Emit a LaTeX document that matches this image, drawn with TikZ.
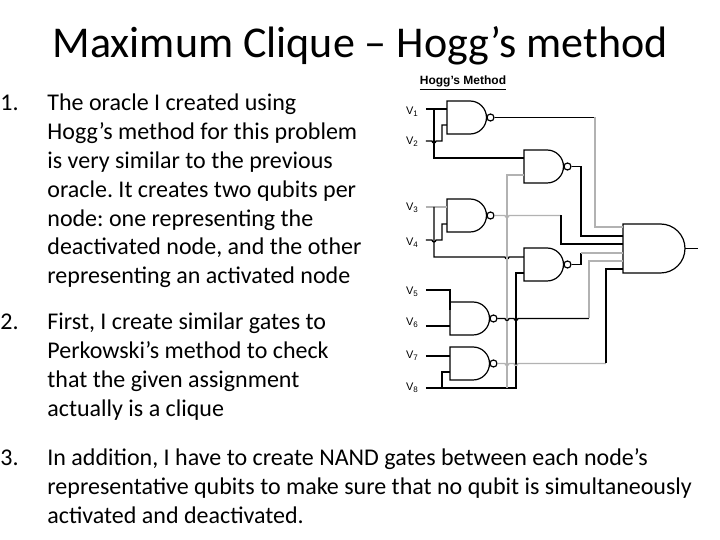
\documentclass[tikz,border=0pt]{standalone}
\usepackage{fontspec}
\setmainfont{Carlito}
\newfontfamily\lsans{Liberation Sans}
\frenchspacing
\newcommand\lines[1]{\begin{tabular}[t]{@{}l@{}}#1\end{tabular}}
\newcommand\vsub[2]{#1\raisebox{-0.4ex}{\fontsize{4}{5}\selectfont #2}}
\begin{document}
\begin{tikzpicture}[x=0.5pt,y=-0.5pt,
  txt/.style={anchor=base west,align=left,inner sep=0,font=\fontsize{12}{14.4}\selectfont},
  lbl/.style={font=\lsans\fontsize{5.5}{6}\selectfont,inner sep=0},
  wire/.style={line width=0.6pt},
  gwire/.style={line width=0.6pt,draw=gray!60},
  gate/.style={line width=0.6pt}]
\useasboundingbox[fill=white] (0,0) rectangle (720,540);
\newcommand\nandgate[2]{\draw[gate] (#1,#2) -- ++(23,0) arc(-90:90:16.5) -- ++(-23,0) -- cycle;
  \draw[gate] (#1+43.5,#2+16.5) circle (3.5);}
\node[anchor=base,inner sep=0,font=\fontsize{22}{26}\selectfont] (title) at (360,58) {Maximum Clique – Hogg’s method};
\node[txt] (n1) at (0,111) {1.};
\node[txt] (t1) at (47,111) {\lines{The oracle I created using\\Hogg’s method for this problem\\is very similar to the previous\\oracle. It creates two qubits per\\node: one representing the\\deactivated node, and the other\\representing an activated node}};
\node[txt] (n2) at (0,330) {2.};
\node[txt] (t2) at (47,330) {\lines{First, I create similar gates to\\Perkowski’s method to check\\that the given assignment\\actually is a clique}};
\node[txt] (n3) at (0,466) {3.};
\node[txt] (t3) at (47,466) {\lines{In addition, I have to create NAND gates between each node’s\\representative qubits to make sure that no qubit is simultaneously\\activated and deactivated.}};
\node[font=\lsans\bfseries\fontsize{6}{7}\selectfont,inner sep=0] (hogg) at (463,83) {\underline{Hogg’s Method}};
\node[lbl] (v1) at (412,112) {\vsub{V}{1}};
\node[lbl] (v2) at (412,142) {\vsub{V}{2}};
\node[lbl] (v3) at (412,208) {\vsub{V}{3}};
\node[lbl] (v4) at (412,243) {\vsub{V}{4}};
\node[lbl] (v5) at (412,292) {\vsub{V}{5}};
\node[lbl] (v6) at (412,323) {\vsub{V}{6}};
\node[lbl] (v7) at (412,356) {\vsub{V}{7}};
\node[lbl] (v8) at (412,388) {\vsub{V}{8}};
% gates
\nandgate{447}{101}
\nandgate{524}{150}
\nandgate{447}{199}
\nandgate{524}{248}
\nandgate{450}{302}
\nandgate{450}{347}
\draw[gate] (623,224) -- ++(37.5,0) arc(-90:90:24.5) -- ++(-37.5,0) -- cycle;
\draw[wire] (685,248.5) -- (698,248.5);
% inputs
\draw[wire] (426,109) -- (447,109);
\draw[wire] (434,109) -- (434,158) -- (524,158);
\draw[wire] (426,141) -- (432,141) arc(180:0:2) -- (442,141) -- (442,125) -- (447,125);
\draw[gwire] (426,207) -- (447,207);
\draw[wire] (434,207) -- (434,257) -- (505,257) arc(180:0:2) -- (524,257);
\draw[wire] (426,240) -- (432,240) arc(180:0:2) -- (442,240) -- (442,224) -- (447,224);
\draw[wire] (426,290) -- (450,290) -- (450,310);
\draw[wire] (426,326) -- (450,326);
\draw[wire] (426,356) -- (450,356);
\draw[wire] (426,388) -- (516,388) -- (516,273) -- (524,273);
\draw[wire] (442,388) -- (442,372) -- (450,372);
\draw[gwire] (507,388) -- (507,175) -- (524,175);
% outputs
\draw[wire] (495,117.5) -- (595,117.5);
\draw[gwire] (595,117.5) -- (595,227) -- (623,227);
\draw[wire] (572.5,166.5) -- (581,166.5) -- (581,236) -- (623,236);
\draw[gwire] (494.5,215.5) -- (505,215.5) arc(180:0:2) -- (561,215.5);
\draw[wire] (561,215.5) -- (561,244) -- (623,244);
\draw[wire] (572.5,264.5) -- (581,264.5) -- (581,253);
\draw[gwire] (581,253) -- (623,253);
\draw[wire] (497.5,318.5) -- (505,318.5) arc(180:0:2) -- (514,318.5) arc(180:0:2) -- (589,318.5);
\draw[gwire] (589,318.5) -- (589,261) -- (623,261);
\draw[gwire] (497.5,363.5) -- (505,363.5) arc(180:0:2) -- (514,363.5) arc(180:0:2) -- (606,363.5);
\draw[wire] (606,363.5) -- (606,269) -- (623,269);
\end{tikzpicture}
\end{document}
